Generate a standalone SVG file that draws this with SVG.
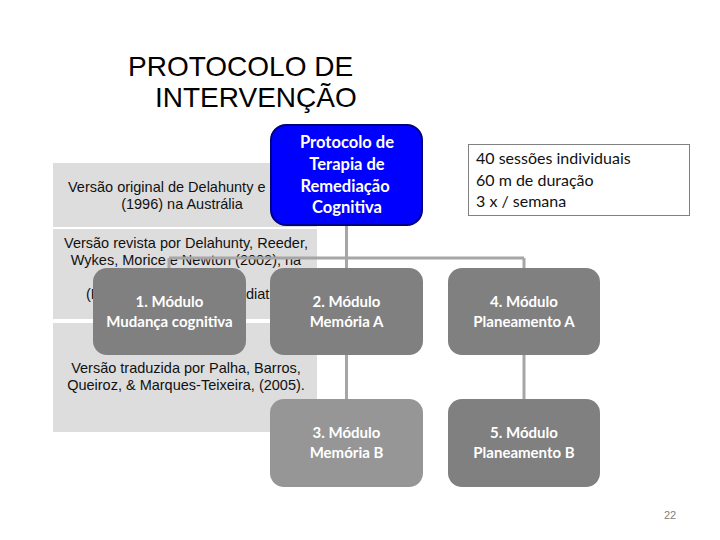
<svg xmlns="http://www.w3.org/2000/svg" width="720" height="540" viewBox="0 0 720 540">
<style>
.title{font-family:"Liberation Sans",Arial,sans-serif;font-size:28px;fill:#000}
.panel{fill:#dddddd}
.ptxt{font-family:"Liberation Sans",Arial,sans-serif;font-size:14.5px;fill:#111;text-anchor:middle}
.frag{font-family:"Liberation Sans",Arial,sans-serif;font-size:14.5px;fill:#111}
.mod{fill:#808080}
.mod2{fill:#969696}
.mtxt{font-family:Lato,"Noto Sans",sans-serif;font-weight:700;font-size:15px;fill:#fff;text-anchor:middle}
.btxt{font-family:Lato,"Noto Sans",sans-serif;font-weight:700;font-size:16.5px;fill:#fff;text-anchor:middle}
.itxt{font-family:Lato,"Noto Sans",sans-serif;font-size:16px;fill:#111}
.conn{stroke:#a6a6a6;stroke-width:3;fill:none}
</style>
<rect width="720" height="540" fill="#fff"/>
<g id="title">
<text class="title" x="128" y="76">PROTOCOLO DE</text>
<text class="title" x="155" y="107">INTERVENÇÃO</text>
</g>
<g id="panels">
<rect class="panel" x="53" y="163" width="264" height="64"/>
<text class="frag" x="68" y="192">Versão original de Delahunty e M</text>
<text class="ptxt" x="182" y="209">(1996) na Austrália</text>
<rect class="panel" x="53" y="229" width="264" height="90"/>
<text class="ptxt" x="186" y="248">Versão revista por Delahunty, Reeder,</text>
<text class="ptxt" x="186" y="265">Wykes, Morice e Newton (2002), na</text>
<text class="frag" x="86" y="299">(R</text>
<text class="frag" x="246" y="299">diati</text>
<rect class="panel" x="53" y="323" width="264" height="109"/>
<text class="ptxt" x="186" y="373">Versão traduzida por Palha, Barros,</text>
<text class="ptxt" x="186" y="390">Queiroz, &amp; Marques-Teixeira, (2005).</text>
</g>
<g id="connectors">
<path class="conn" d="M346.5 225V258M169 258H524M169 258V268M346.5 258V268M524 258V268M346.5 355V399M524 355V399"/>
</g>
<g id="root">
<rect x="271" y="125" width="151" height="100" rx="15" fill="#0000ff" stroke="#000080" stroke-width="2"/>
<text class="btxt" x="347" y="148">Protocolo de</text>
<text class="btxt" x="347" y="170">Terapia de</text>
<text class="btxt" x="345" y="192">Remediação</text>
<text class="btxt" x="347" y="213">Cognitiva</text>
</g>
<g id="info">
<rect x="468.5" y="144.5" width="221" height="71" fill="#fff" stroke="#808080" stroke-width="1"/>
<text class="itxt" x="476" y="164">40 sessões individuais</text>
<text class="itxt" x="476" y="186">60 m de duração</text>
<text class="itxt" x="476" y="207">3 x / semana</text>
</g>
<g id="m1">
<rect class="mod" x="93" y="268" width="153" height="87" rx="14"/>
<text class="mtxt" x="169.5" y="307">1. Módulo</text>
<text class="mtxt" x="169.5" y="327">Mudança cognitiva</text>
</g>
<g id="m2">
<rect class="mod" x="270" y="268" width="153" height="87" rx="14"/>
<text class="mtxt" x="346.5" y="307">2. Módulo</text>
<text class="mtxt" x="346.5" y="327">Memória A</text>
</g>
<g id="m4">
<rect class="mod" x="448" y="268" width="152" height="87" rx="14"/>
<text class="mtxt" x="524" y="307">4. Módulo</text>
<text class="mtxt" x="524" y="327">Planeamento A</text>
</g>
<g id="m3">
<rect class="mod2" x="270" y="399" width="153" height="88" rx="14"/>
<text class="mtxt" x="346.5" y="438">3. Módulo</text>
<text class="mtxt" x="346.5" y="458">Memória B</text>
</g>
<g id="m5">
<rect class="mod" x="448" y="399" width="152" height="88" rx="14"/>
<text class="mtxt" x="524" y="438">5. Módulo</text>
<text class="mtxt" x="524" y="458">Planeamento B</text>
</g>
<text x="670" y="519" font-family="Liberation Sans,Arial,sans-serif" font-size="11" fill="#808080" text-anchor="middle">22</text>
</svg>
